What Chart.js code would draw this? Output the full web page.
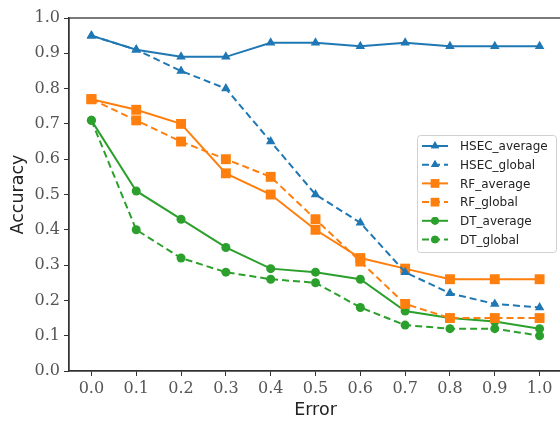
<!DOCTYPE html>
<html><head><meta charset="utf-8">
<script src="https://cdn.jsdelivr.net/npm/chart.js@4/dist/chart.umd.min.js"></script>
<style>html,body{margin:0;padding:0;background:#fff;overflow:hidden}#wrap{width:569px;height:421px}</style>
</head><body><div id="wrap"><canvas id="c" width="569" height="421"></canvas></div>
<script>
const categories = ['0.0','0.1','0.2','0.3','0.4','0.5','0.6','0.7','0.8','0.9','1.0'];
const yTicks = [0,0.1,0.2,0.3,0.4,0.5,0.6,0.7,0.8,0.9,1.0];
const HSEC_average = [0.95,0.91,0.89,0.89,0.93,0.93,0.92,0.93,0.92,0.92,0.92];
const HSEC_global  = [0.95,0.91,0.85,0.80,0.65,0.50,0.42,0.28,0.22,0.19,0.18];
const RF_average   = [0.77,0.74,0.70,0.56,0.50,0.40,0.32,0.29,0.26,0.26,0.26];
const RF_global    = [0.77,0.71,0.65,0.60,0.55,0.43,0.31,0.19,0.15,0.15,0.15];
const DT_average   = [0.71,0.51,0.43,0.35,0.29,0.28,0.26,0.17,0.15,0.14,0.12];
const DT_global    = [0.71,0.40,0.32,0.28,0.26,0.25,0.18,0.13,0.12,0.12,0.10];

const BLUE='#1f77b4', ORANGE='#ff7f0e', GREEN='#2ca02c';
const DASH=[7,4];
function ds(label,data,color,style,dashed,r){
  return {label,data,borderColor:color,backgroundColor:color,borderWidth:2,
    borderDash:dashed?DASH:[],pointStyle:style,pointRadius:r,pointHoverRadius:r,
    pointBorderWidth:0,tension:0,fill:false};
}
const datasets=[
  ds('HSEC_average',HSEC_average,BLUE,'triangle',false,5.5),
  ds('HSEC_global',HSEC_global,BLUE,'triangle',true,5.5),
  ds('RF_average',RF_average,ORANGE,'rect',false,7),
  ds('RF_global',RF_global,ORANGE,'rect',true,7),
  ds('DT_average',DT_average,GREEN,'circle',false,4.5),
  ds('DT_global',DT_global,GREEN,'circle',true,4.5)
];

const framePlugin={id:'frame',afterDatasetsDraw(chart){
  const {ctx,chartArea:a}=chart;
  ctx.save();ctx.strokeStyle='#333';ctx.lineWidth=1.3;
  ctx.strokeRect(a.left,a.top,a.right-a.left,a.bottom-a.top);
  // legend
  const bx=a.left+348, by=a.top+117, bw=139, bh=117;
  ctx.fillStyle='rgba(255,255,255,0.85)';ctx.strokeStyle='#d0d0d0';ctx.lineWidth=1;
  ctx.beginPath();ctx.roundRect(bx+0.5,by+0.5,bw,bh,3);ctx.fill();ctx.stroke();
  ctx.font='12px "DejaVu Sans"';ctx.textBaseline='middle';ctx.textAlign='left';
  chart.data.datasets.forEach((d,i)=>{
    const y=by+11+i*18.7;
    ctx.strokeStyle=d.borderColor;ctx.lineWidth=2;ctx.setLineDash(d.borderDash);
    ctx.beginPath();ctx.moveTo(bx+5,y);ctx.lineTo(bx+31,y);ctx.stroke();ctx.setLineDash([]);
    ctx.fillStyle=d.backgroundColor;
    Chart.helpers.drawPoint(ctx,{pointStyle:d.pointStyle,radius:d.pointRadius*0.85,borderWidth:0},bx+18,y);
    ctx.fill();
    ctx.fillStyle='#222';ctx.fillText(d.label,bx+43,y+1);
  });
  ctx.restore();
}};

new Chart(document.getElementById('c'),{
  type:'line',
  data:{labels:categories,datasets},
  options:{
    responsive:false,animation:false,
    layout:{padding:{top:18,right:1,left:0,bottom:0}},
    plugins:{legend:{display:false},tooltip:{enabled:false}},
    scales:{
      x:{type:'category',offset:true,
        grid:{display:true,drawOnChartArea:false,drawTicks:true,tickLength:5,color:'#333',offset:false},
        border:{display:true,color:'#333',width:1.3},
        ticks:{color:'#555',font:{family:'"DejaVu Serif"',size:16},padding:3,maxRotation:0,autoSkip:false},
        title:{display:true,text:'Error',color:'#222',font:{family:'"DejaVu Sans"',size:17.5},padding:{top:2,bottom:0}},
        afterFit(s){s.height=50;}
      },
      y:{type:'linear',min:0,max:1,
        afterBuildTicks(s){s.ticks=yTicks.map(v=>({value:v}));},
        grid:{display:true,drawOnChartArea:false,drawTicks:true,tickLength:5,color:'#333'},
        border:{display:true,color:'#333',width:1.3},
        ticks:{color:'#555',font:{family:'"DejaVu Serif"',size:16},padding:4,callback:v=>v.toFixed(1)},
        title:{display:true,text:'Accuracy',color:'#222',font:{family:'"DejaVu Sans"',size:17.5},padding:{top:8,bottom:0}},
        afterFit(s){s.width=69;}
      }
    }
  },
  plugins:[framePlugin]
});
</script></body></html>
